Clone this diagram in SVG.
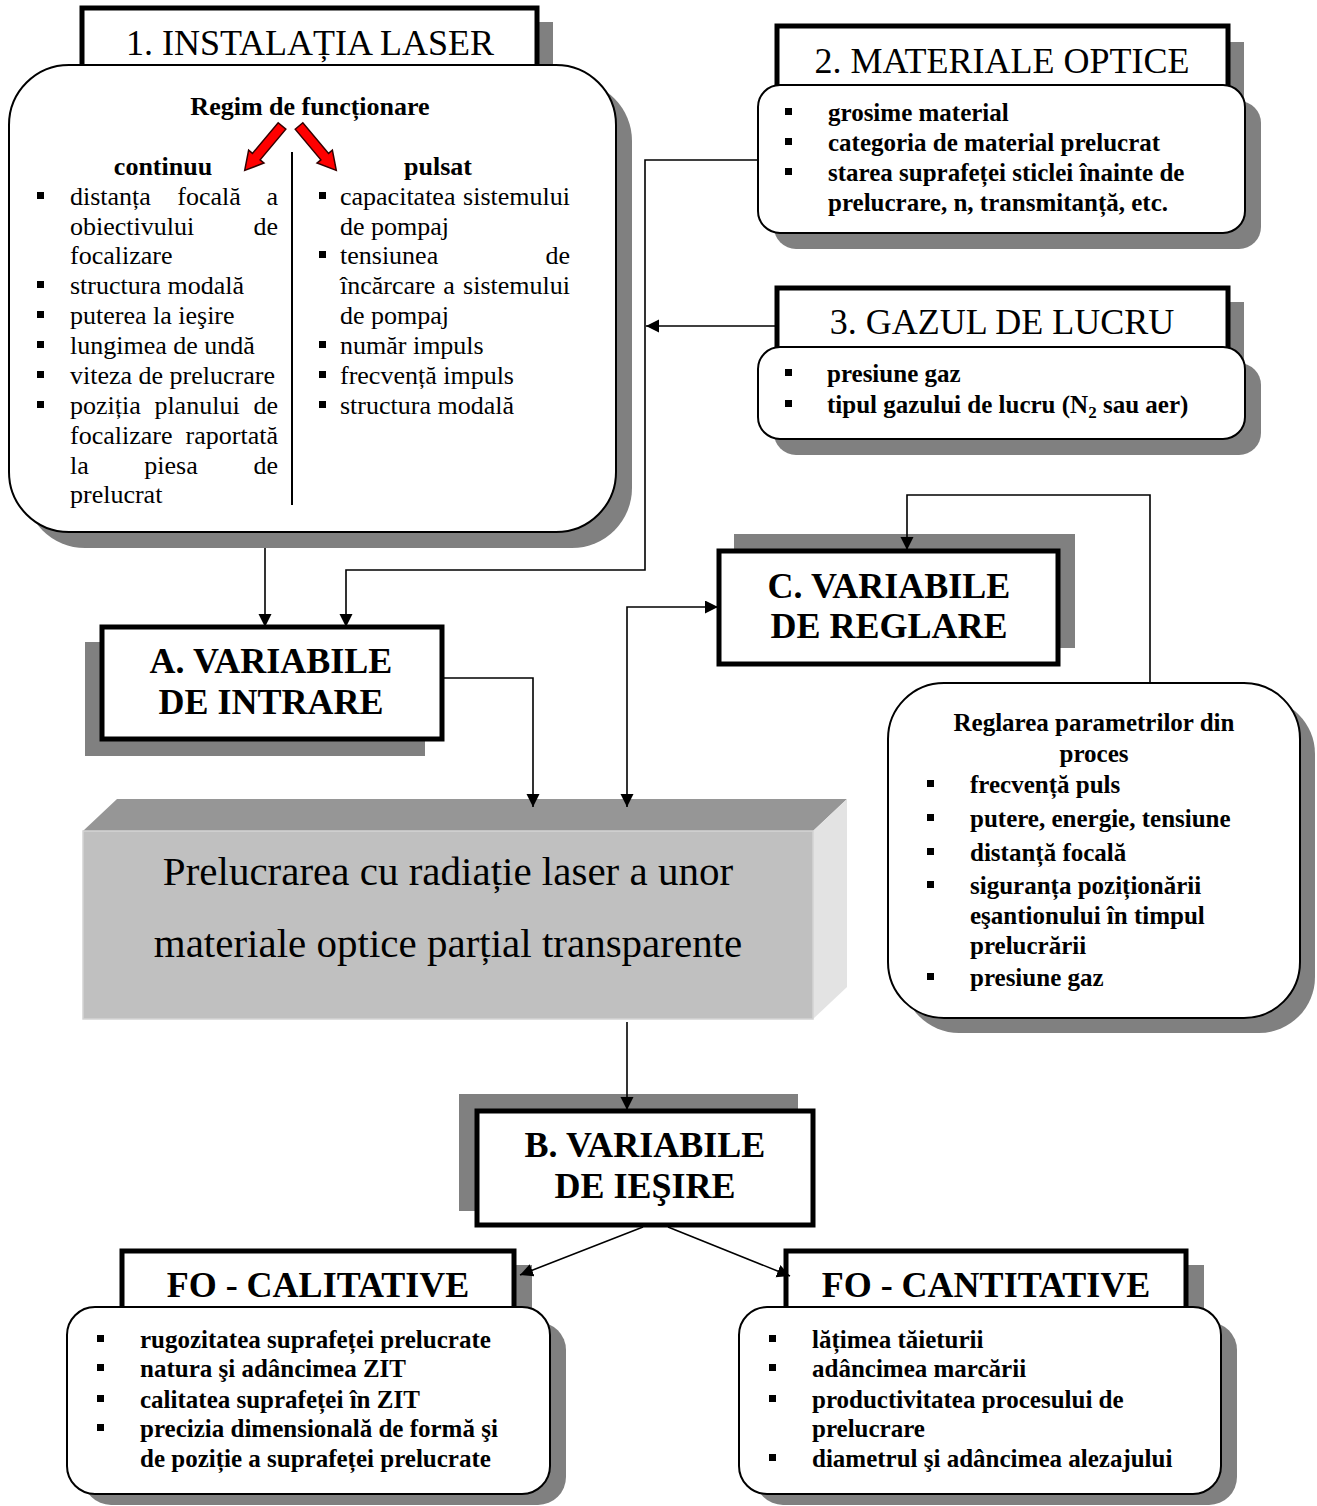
<svg xmlns="http://www.w3.org/2000/svg" width="1317" height="1506" viewBox="0 0 1317 1506">
  <style>
    text { font-family: "Liberation Serif", "Times New Roman", serif; fill: #000; }
    .title { font-size: 36px; text-anchor: middle; }
    .hdr { font-size: 36px; font-weight: bold; text-anchor: middle; }
    .li { font-size: 26px; }
    .lb { font-size: 25px; font-weight: bold; }
    .sub { font-size: 26px; font-weight: bold; text-anchor: middle; }
    .mid { text-anchor: middle; }
    .end { text-anchor: end; }
    .big { font-size: 41px; text-anchor: middle; }
    .shadow { fill: #808080; stroke: none; }
    .frame { fill: #fff; stroke: #000; stroke-width: 5; }
    .rbox { fill: #fff; stroke: #000; stroke-width: 2; }
    .wire { fill: none; stroke: #000; stroke-width: 1.6; }
    .red { fill: #ff0000; stroke: #300; stroke-width: 1.5; stroke-linejoin: miter; }
  </style>
  <defs>
    <marker id="ah" markerUnits="userSpaceOnUse" markerWidth="14" markerHeight="14" refX="13" refY="6.5" orient="auto-start-reverse">
      <path d="M0,0 L13,6.5 L0,13 z" fill="#000"/>
    </marker>
    <rect id="b" width="7" height="7" fill="#000"/>
    <!-- block arrow pointing along +y, tail at origin -->
    <polygon id="redArrow" points="-5,0 5,0 5,40 10,40 0,58 -10,40 -5,40"/>
  </defs>

  <!-- 1. Laser installation -->
  <g id="node-instalatia">
    <rect class="shadow" x="98" y="22" width="455" height="70"/>
    <rect class="frame" x="82" y="8" width="455" height="70"/>
    <text class="title" x="310" y="55">1. INSTALAȚIA LASER</text>
    <rect class="shadow" x="25" y="81" width="607" height="467" rx="60"/>
    <rect class="rbox" x="9" y="65" width="607" height="467" rx="60"/>
    <text class="sub" x="310" y="115">Regim de funcționare</text>
    <use href="#redArrow" class="red" transform="translate(282,126) rotate(40)"/>
    <use href="#redArrow" class="red" transform="translate(299,126) rotate(-40)"/>
    <line x1="292" y1="152" x2="292" y2="505" stroke="#000" stroke-width="2"/>
    <text class="sub" x="163" y="175">continuu</text>
    <text class="sub" x="438" y="175">pulsat</text>
    <!-- left column: continuous mode -->
    <g class="li">
      <use href="#b" x="37" y="192"/>
      <text x="70" y="205">distanța</text><text class="mid" x="209" y="205">focală</text><text class="end" x="278" y="205">a</text>
      <text x="70" y="235">obiectivului</text><text class="end" x="278" y="235">de</text>
      <text x="70" y="264">focalizare</text>
      <use href="#b" x="37" y="281"/>
      <text x="70" y="294">structura modală</text>
      <use href="#b" x="37" y="311"/>
      <text x="70" y="324">puterea la ieşire</text>
      <use href="#b" x="37" y="341"/>
      <text x="70" y="354">lungimea de undă</text>
      <use href="#b" x="37" y="371"/>
      <text x="70" y="384">viteza de prelucrare</text>
      <use href="#b" x="37" y="401"/>
      <text x="70" y="414">poziția</text><text class="mid" x="197" y="414">planului</text><text class="end" x="278" y="414">de</text>
      <text x="70" y="444">focalizare</text><text class="end" x="278" y="444">raportată</text>
      <text x="70" y="474">la</text><text class="mid" x="171" y="474">piesa</text><text class="end" x="278" y="474">de</text>
      <text x="70" y="503">prelucrat</text>
    </g>
    <!-- right column: pulsed mode -->
    <g class="li">
      <use href="#b" x="319" y="192"/>
      <text x="340" y="205">capacitatea</text><text class="end" x="570" y="205">sistemului</text>
      <text x="340" y="235">de pompaj</text>
      <use href="#b" x="319" y="251"/>
      <text x="340" y="264">tensiunea</text><text class="end" x="570" y="264">de</text>
      <text x="340" y="294">încărcare</text><text class="mid" x="449" y="294">a</text><text class="end" x="570" y="294">sistemului</text>
      <text x="340" y="324">de pompaj</text>
      <use href="#b" x="319" y="341"/>
      <text x="340" y="354">număr impuls</text>
      <use href="#b" x="319" y="371"/>
      <text x="340" y="384">frecvență impuls</text>
      <use href="#b" x="319" y="401"/>
      <text x="340" y="414">structura modală</text>
    </g>
  </g>

  <!-- 2. Optical materials -->
  <g id="node-materiale">
    <rect class="shadow" x="793" y="42" width="451" height="60"/>
    <rect class="frame" x="777" y="26" width="451" height="70"/>
    <text class="title" x="1002" y="73">2. MATERIALE OPTICE</text>
    <rect class="shadow" x="774" y="101" width="487" height="148" rx="22"/>
    <rect class="rbox" x="758" y="85" width="487" height="148" rx="22"/>
    <g class="lb">
      <use href="#b" x="785" y="108"/>
      <text x="828" y="121">grosime material</text>
      <use href="#b" x="785" y="138"/>
      <text x="828" y="151">categoria de material prelucrat</text>
      <use href="#b" x="785" y="168"/>
      <text x="828" y="181">starea suprafeței sticlei înainte de</text>
      <text x="828" y="211">prelucrare, n, transmitanță, etc.</text>
    </g>
  </g>

  <!-- 3. Working gas -->
  <g id="node-gazul">
    <rect class="shadow" x="793" y="302" width="451" height="60"/>
    <rect class="frame" x="777" y="288" width="451" height="70"/>
    <text class="title" x="1002" y="334">3. GAZUL DE LUCRU</text>
    <rect class="shadow" x="774" y="363" width="487" height="92" rx="22"/>
    <rect class="rbox" x="758" y="347" width="487" height="92" rx="22"/>
    <g class="lb">
      <use href="#b" x="785" y="369"/>
      <text x="827" y="382">presiune gaz</text>
      <use href="#b" x="785" y="400"/>
      <text x="827" y="413">tipul gazului de lucru (N<tspan font-size="17" dy="5">2</tspan><tspan dy="-5"> sau aer)</tspan></text>
    </g>
  </g>

  <!-- A. Input variables -->
  <g id="node-a">
    <rect class="shadow" x="85" y="642" width="340" height="114"/>
    <rect class="frame" x="102" y="627" width="340" height="112"/>
    <text class="hdr" x="271" y="673">A. VARIABILE</text>
    <text class="hdr" x="271" y="714">DE INTRARE</text>
  </g>

  <!-- C. Control variables -->
  <g id="node-c">
    <rect class="shadow" x="734" y="534" width="341" height="114"/>
    <rect class="frame" x="719" y="551" width="339" height="113"/>
    <text class="hdr" x="889" y="598">C. VARIABILE</text>
    <text class="hdr" x="889" y="638">DE REGLARE</text>
  </g>

  <!-- Parameter control -->
  <g id="node-reglare">
    <rect class="shadow" x="903" y="698" width="412" height="335" rx="56"/>
    <rect class="rbox" x="888" y="683" width="412" height="335" rx="56"/>
    <text class="lb mid" x="1094" y="731">Reglarea parametrilor din</text>
    <text class="lb mid" x="1094" y="762">proces</text>
    <g class="lb">
      <use href="#b" x="927" y="780"/>
      <text x="970" y="793">frecvență puls</text>
      <use href="#b" x="927" y="814"/>
      <text x="970" y="827">putere, energie, tensiune</text>
      <use href="#b" x="927" y="848"/>
      <text x="970" y="861">distanță focală</text>
      <use href="#b" x="927" y="881"/>
      <text x="970" y="894">siguranța poziționării</text>
      <text x="970" y="924">eşantionului în timpul</text>
      <text x="970" y="954">prelucrării</text>
      <use href="#b" x="927" y="973"/>
      <text x="970" y="986">presiune gaz</text>
    </g>
  </g>

  <!-- Processing block (3D box) -->
  <g id="node-proces">
    <polygon points="83,831 117,799 847,799 813,831" fill="#969696"/>
    <polygon points="813,831 847,799 847,987 813,1019" fill="#e3e3e3"/>
    <rect x="83" y="831" width="730" height="188" fill="#c0c0c0" stroke="#d4d4d4" stroke-width="1.5"/>
    <text class="big" x="448" y="885">Prelucrarea cu radiație laser a unor</text>
    <text class="big" x="448" y="957">materiale optice parțial transparente</text>
  </g>

  <!-- B. Output variables -->
  <g id="node-b">
    <rect class="shadow" x="459" y="1094" width="339" height="117"/>
    <rect class="frame" x="477" y="1111" width="336" height="114"/>
    <text class="hdr" x="645" y="1157">B. VARIABILE</text>
    <text class="hdr" x="645" y="1198">DE IEŞIRE</text>
  </g>

  <!-- Qualitative objective functions -->
  <g id="node-calitative">
    <rect class="shadow" x="138" y="1265" width="394" height="60"/>
    <rect class="frame" x="122" y="1251" width="392" height="70"/>
    <text class="hdr" x="318" y="1297">FO - CALITATIVE</text>
    <rect class="shadow" x="83" y="1322" width="483" height="183" rx="28"/>
    <rect class="rbox" x="67" y="1307" width="483" height="187" rx="28"/>
    <g class="lb">
      <use href="#b" x="97" y="1335"/>
      <text x="140" y="1348">rugozitatea suprafeței prelucrate</text>
      <use href="#b" x="97" y="1364"/>
      <text x="140" y="1377">natura şi adâncimea ZIT</text>
      <use href="#b" x="97" y="1395"/>
      <text x="140" y="1408">calitatea suprafeței în ZIT</text>
      <use href="#b" x="97" y="1424"/>
      <text x="140" y="1437">precizia dimensională de formă şi</text>
      <text x="140" y="1467">de poziție a suprafeței prelucrate</text>
    </g>
  </g>

  <!-- Quantitative objective functions -->
  <g id="node-cantitative">
    <rect class="shadow" x="802" y="1265" width="402" height="60"/>
    <rect class="frame" x="786" y="1251" width="400" height="70"/>
    <text class="hdr" x="986" y="1297">FO - CANTITATIVE</text>
    <rect class="shadow" x="755" y="1322" width="482" height="183" rx="28"/>
    <rect class="rbox" x="739" y="1307" width="482" height="187" rx="28"/>
    <g class="lb">
      <use href="#b" x="769" y="1335"/>
      <text x="812" y="1348">lățimea tăieturii</text>
      <use href="#b" x="769" y="1364"/>
      <text x="812" y="1377">adâncimea marcării</text>
      <use href="#b" x="769" y="1395"/>
      <text x="812" y="1408">productivitatea procesului de</text>
      <text x="812" y="1437">prelucrare</text>
      <use href="#b" x="769" y="1454"/>
      <text x="812" y="1467">diametrul şi adâncimea alezajului</text>
    </g>
  </g>

  <!-- Connectors -->
  <g id="connectors" class="wire">
    <path d="M265,548 V627" marker-end="url(#ah)"/>
    <path d="M758,160 H645 V570 H346 V627" marker-end="url(#ah)"/>
    <path d="M777,326 H646" marker-end="url(#ah)"/>
    <path d="M442,678 H533 V807" marker-end="url(#ah)"/>
    <path d="M627,807 V607 H718" marker-start="url(#ah)" marker-end="url(#ah)"/>
    <path d="M1150,683 V495 H907 V550" marker-end="url(#ah)"/>
    <path d="M627,1022 V1110" marker-end="url(#ah)"/>
    <path d="M643,1227 L520,1275" marker-end="url(#ah)"/>
    <path d="M668,1227 L790,1276" marker-end="url(#ah)"/>
  </g>
</svg>
